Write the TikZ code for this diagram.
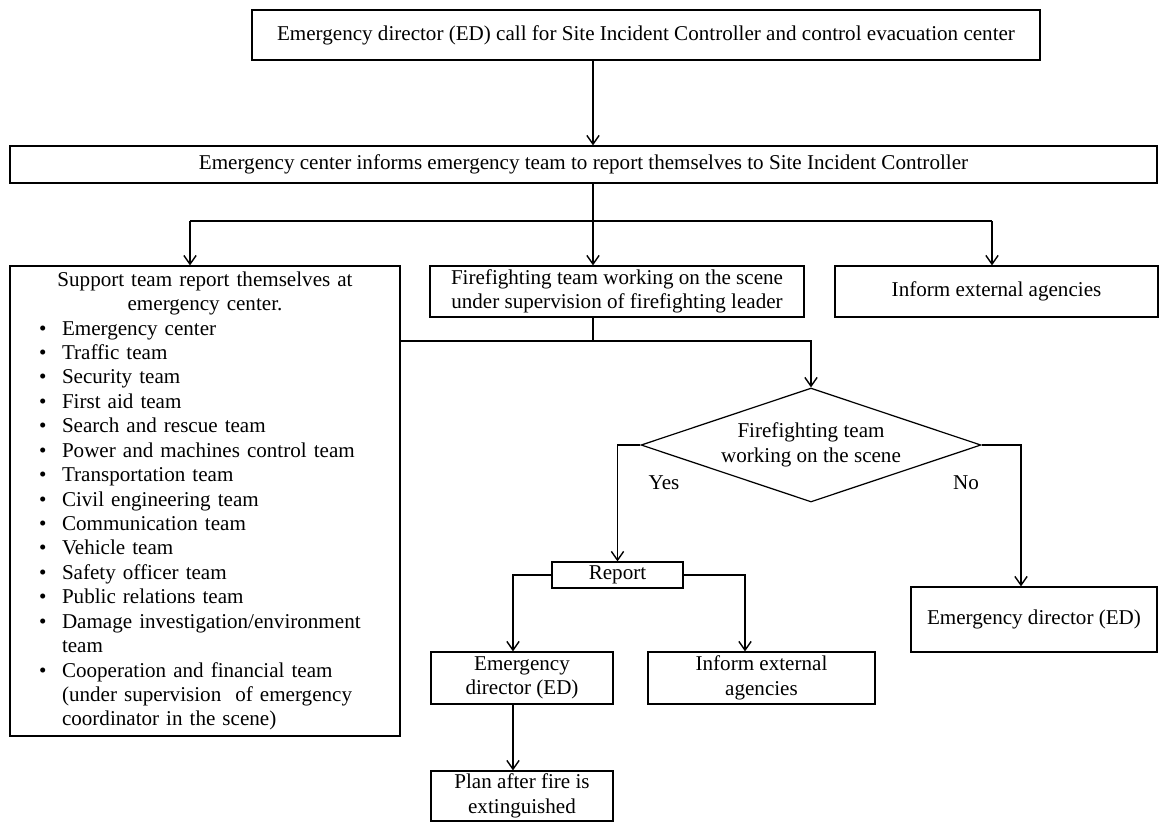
\documentclass[tikz,border=0pt]{standalone}
\usepackage{fontspec}
\setmainfont{Liberation Serif}
\usetikzlibrary{arrows.meta, shapes.geometric, calc}

\newcommand{\teamitem}[1]{\par\noindent\hspace*{0.58cm}\makebox[0.46cm][l]{\textbullet}#1}
\newcommand{\teamcont}[1]{\par\noindent\hspace*{1.04cm}#1}

\begin{document}
\begin{tikzpicture}[
    x=0.02cm, y=-0.02cm,
    >={Straight Barb[length=5pt,width=7pt]},
    every node/.style={font=\fontsize{12}{13.9}\selectfont},
    blk/.style={draw, line width=0.7pt, inner sep=0pt, align=center},
    dec/.style={draw, line width=0.7pt, diamond, aspect=3, inner sep=0pt, align=center,
                minimum width=6.8cm, minimum height=2.28cm},
    lbl/.style={inner sep=0pt},
    line/.style={line width=0.8pt},
]
    \useasboundingbox (0,0) rectangle (1159,823);

    \node[blk, minimum width=15.76cm, minimum height=1.0cm] (call) at (646,35)
        {Emergency director (ED) call for Site Incident Controller and control evacuation center};
    \node[blk, minimum width=22.94cm, minimum height=0.74cm] (notify) at (583.5,164.5)
        {Emergency center informs emergency team to report themselves to Site Incident Controller};

    \node[blk, text width=7.8cm, minimum height=9.4cm, align=left] (support) at (205,501) {%
        \parindent=0pt
        \centering Support team report themselves at\\ emergency center.\par
        \raggedright
        \teamitem{Emergency center}
        \teamitem{Traffic team}
        \teamitem{Security team}
        \teamitem{First aid team}
        \teamitem{Search and rescue team}
        \teamitem{Power and machines control team}
        \teamitem{Transportation team}
        \teamitem{Civil engineering team}
        \teamitem{Communication team}
        \teamitem{Vehicle team}
        \teamitem{Safety officer team}
        \teamitem{Public relations team}
        \teamitem{Damage investigation/environment}
        \teamcont{team}
        \teamitem{Cooperation and financial team}
        \teamcont{(under supervision\ \ of emergency}
        \teamcont{coordinator in the scene)}\par};
    \node[blk, minimum width=7.48cm, minimum height=1.02cm] (fire) at (617,291.5)
        {Firefighting team working on the scene\\under supervision of firefighting leader};
    \node[blk, minimum width=6.46cm, minimum height=1.02cm] (ext) at (996.5,291.5)
        {Inform external agencies};

    \node[dec] (check) at (811,445) {Firefighting team\\working on the scene};
    \node[lbl] (yes) at (664,483) {Yes};
    \node[lbl] (no) at (966,483) {No};

    \node[blk, minimum width=2.62cm, minimum height=0.52cm] (report) at (617.5,575) {Report};
    \node[blk, minimum width=3.64cm, minimum height=1.04cm] (edyes) at (522,678) {Emergency\\director (ED)};
    \node[blk, minimum width=4.54cm, minimum height=1.04cm] (extyes) at (761.5,678) {Inform external\\agencies};
    \node[blk, minimum width=4.92cm, minimum height=1.30cm] (edno) at (1034,619.5) {Emergency director (ED)};
    \node[blk, minimum width=3.64cm, minimum height=1.0cm] (plan) at (522,796) {Plan after fire is\\extinguished};

    % connectors
    \coordinate (spine) at (593,0);
    \coordinate (forkL) at (190,221);
    \coordinate (forkR) at (992,221);
    \coordinate (bus) at (0,341);

    \draw[line,->] (call.south -| spine) -- (notify.north -| spine);
    \draw[line] (notify.south -| spine) -- (spine |- forkL);
    \draw[line] (forkL) -- (forkR);
    \draw[line,->] (forkL) -- (forkL |- support.north);
    \draw[line,->] (spine |- forkL) -- (spine |- fire.north);
    \draw[line,->] (forkR) -- (forkR |- ext.north);

    \draw[line] (fire.south -| spine) -- (spine |- bus);
    \draw[line,->] (bus -| support.east) -| (check.north);
    \draw[line,->] (check.west) -| (report.north);
    \draw[line,->] (check.east) -| ([xshift=-0.26cm]edno.north);
    \draw[line,->] (report.west) -| ([xshift=-0.18cm]edyes.north);
    \draw[line,->] (report.east) -| ([xshift=-0.33cm]extyes.north);
    \draw[line,->] ([xshift=-0.18cm]edyes.south) -- ([xshift=-0.18cm]plan.north);
\end{tikzpicture}
\end{document}
